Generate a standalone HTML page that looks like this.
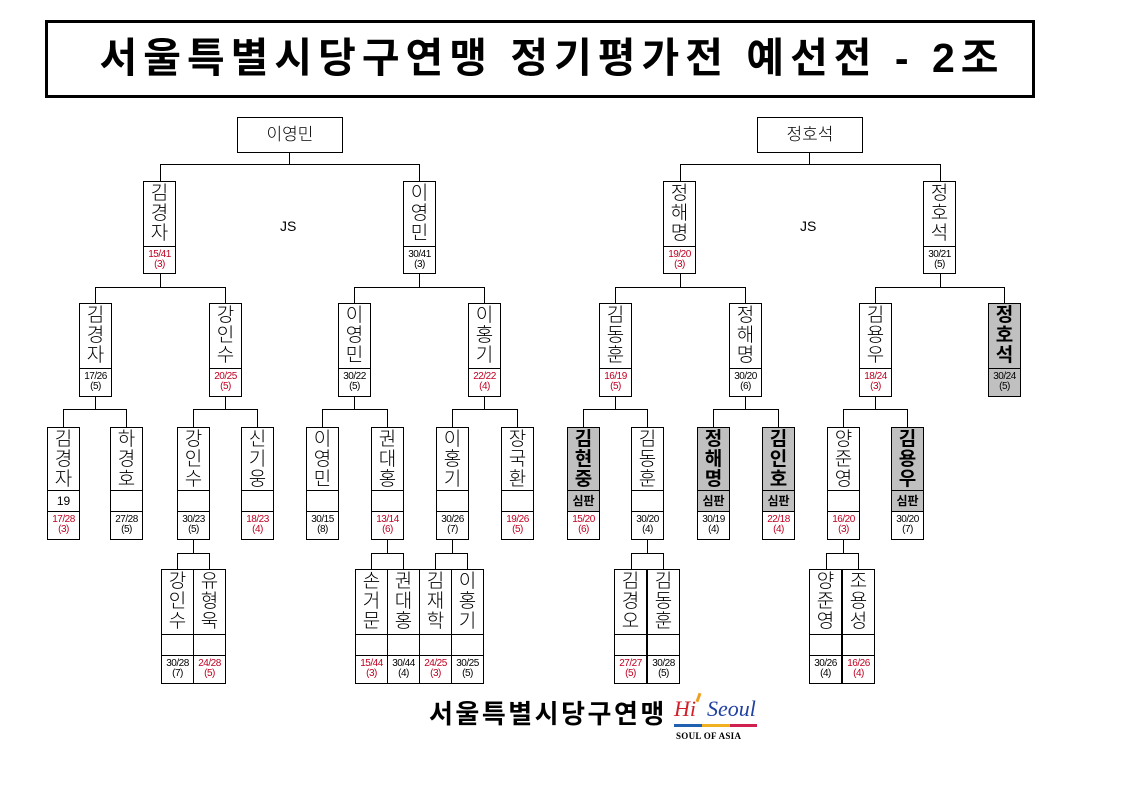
<!DOCTYPE html>
<html><head><meta charset="utf-8">
<style>
*{margin:0;padding:0;box-sizing:border-box}
body{width:1123px;height:794px;background:#fff;position:relative;overflow:hidden;font-family:"Liberation Sans","Noto Sans CJK KR","NanumGothic",sans-serif;color:#000}
.l{position:absolute;background:#000}
.b{position:absolute;width:33px;border:1px solid #000;background:#fff}
.n{font-size:19px;line-height:20px;text-align:center;padding-top:2px;overflow:hidden;font-weight:300}
.m{border-top:1px solid #000;font-size:12px;text-align:center;line-height:20px;height:21px}
.s{border-top:1px solid #000;font-size:10px;line-height:10px;text-align:center;padding-top:3px;letter-spacing:-0.5px}
.r{color:#c00020}
.g{background:#c0c0c0}
.g .n{font-weight:bold}
.j{font-weight:bold;background:#c0c0c0}
.t{position:absolute;border:1px solid #000;background:#fff;font-size:17px;text-align:center;line-height:33px;font-weight:300}
</style></head><body>
<div style="position:absolute;left:45px;top:20px;width:990px;height:78px;border:3px solid #000;"></div>
<div style="position:absolute;left:45px;top:20px;width:990px;height:78px;padding-left:24px;text-align:center;line-height:76px;font-size:41px;font-weight:bold;letter-spacing:6px;">서울특별시당구연맹 정기평가전 예선전 - 2조</div>

<div class="t" style="left:237px;top:117px;width:106px;height:36px">이영민</div>
<div class="t" style="left:757px;top:117px;width:106px;height:36px">정호석</div>
<div style="position:absolute;left:280px;top:218px;font-size:14px">JS</div>
<div style="position:absolute;left:800px;top:218px;font-size:14px">JS</div>

<!-- top connectors -->
<div class="l" style="left:289px;top:152px;width:1px;height:12px"></div>
<div class="l" style="left:160px;top:164px;width:260px;height:1px"></div>
<div class="l" style="left:160px;top:164px;width:1px;height:17px"></div>
<div class="l" style="left:419px;top:164px;width:1px;height:17px"></div>
<div class="l" style="left:809px;top:152px;width:1px;height:12px"></div>
<div class="l" style="left:680px;top:164px;width:261px;height:1px"></div>
<div class="l" style="left:680px;top:164px;width:1px;height:17px"></div>
<div class="l" style="left:940px;top:164px;width:1px;height:17px"></div>

<!-- L1 -> L2 -->
<div class="l" style="left:160px;top:273px;width:1px;height:14px"></div>
<div class="l" style="left:95px;top:287px;width:131px;height:1px"></div>
<div class="l" style="left:95px;top:287px;width:1px;height:16px"></div>
<div class="l" style="left:225px;top:287px;width:1px;height:16px"></div>
<div class="l" style="left:419px;top:273px;width:1px;height:14px"></div>
<div class="l" style="left:354px;top:287px;width:131px;height:1px"></div>
<div class="l" style="left:354px;top:287px;width:1px;height:16px"></div>
<div class="l" style="left:484px;top:287px;width:1px;height:16px"></div>
<div class="l" style="left:680px;top:273px;width:1px;height:14px"></div>
<div class="l" style="left:615px;top:287px;width:131px;height:1px"></div>
<div class="l" style="left:615px;top:287px;width:1px;height:16px"></div>
<div class="l" style="left:745px;top:287px;width:1px;height:16px"></div>
<div class="l" style="left:940px;top:273px;width:1px;height:14px"></div>
<div class="l" style="left:875px;top:287px;width:130px;height:1px"></div>
<div class="l" style="left:875px;top:287px;width:1px;height:16px"></div>
<div class="l" style="left:1004px;top:287px;width:1px;height:16px"></div>

<!-- L2 -> L3 -->
<div class="l" style="left:95px;top:396px;width:1px;height:13px"></div>
<div class="l" style="left:63px;top:409px;width:64px;height:1px"></div>
<div class="l" style="left:63px;top:409px;width:1px;height:18px"></div>
<div class="l" style="left:126px;top:409px;width:1px;height:18px"></div>
<div class="l" style="left:225px;top:396px;width:1px;height:13px"></div>
<div class="l" style="left:193px;top:409px;width:65px;height:1px"></div>
<div class="l" style="left:193px;top:409px;width:1px;height:18px"></div>
<div class="l" style="left:257px;top:409px;width:1px;height:18px"></div>
<div class="l" style="left:354px;top:396px;width:1px;height:13px"></div>
<div class="l" style="left:322px;top:409px;width:66px;height:1px"></div>
<div class="l" style="left:322px;top:409px;width:1px;height:18px"></div>
<div class="l" style="left:387px;top:409px;width:1px;height:18px"></div>
<div class="l" style="left:484px;top:396px;width:1px;height:13px"></div>
<div class="l" style="left:452px;top:409px;width:66px;height:1px"></div>
<div class="l" style="left:452px;top:409px;width:1px;height:18px"></div>
<div class="l" style="left:517px;top:409px;width:1px;height:18px"></div>
<div class="l" style="left:615px;top:396px;width:1px;height:13px"></div>
<div class="l" style="left:583px;top:409px;width:65px;height:1px"></div>
<div class="l" style="left:583px;top:409px;width:1px;height:18px"></div>
<div class="l" style="left:647px;top:409px;width:1px;height:18px"></div>
<div class="l" style="left:745px;top:396px;width:1px;height:13px"></div>
<div class="l" style="left:713px;top:409px;width:66px;height:1px"></div>
<div class="l" style="left:713px;top:409px;width:1px;height:18px"></div>
<div class="l" style="left:778px;top:409px;width:1px;height:18px"></div>
<div class="l" style="left:875px;top:396px;width:1px;height:13px"></div>
<div class="l" style="left:843px;top:409px;width:65px;height:1px"></div>
<div class="l" style="left:843px;top:409px;width:1px;height:18px"></div>
<div class="l" style="left:907px;top:409px;width:1px;height:18px"></div>

<!-- L3 -> L4 -->
<div class="l" style="left:193px;top:539px;width:1px;height:14px"></div>
<div class="l" style="left:177px;top:553px;width:33px;height:1px"></div>
<div class="l" style="left:177px;top:553px;width:1px;height:16px"></div>
<div class="l" style="left:209px;top:553px;width:1px;height:16px"></div>
<div class="l" style="left:387px;top:539px;width:1px;height:14px"></div>
<div class="l" style="left:371px;top:553px;width:33px;height:1px"></div>
<div class="l" style="left:371px;top:553px;width:1px;height:16px"></div>
<div class="l" style="left:403px;top:553px;width:1px;height:16px"></div>
<div class="l" style="left:452px;top:539px;width:1px;height:14px"></div>
<div class="l" style="left:435px;top:553px;width:33px;height:1px"></div>
<div class="l" style="left:435px;top:553px;width:1px;height:16px"></div>
<div class="l" style="left:467px;top:553px;width:1px;height:16px"></div>
<div class="l" style="left:647px;top:539px;width:1px;height:14px"></div>
<div class="l" style="left:631px;top:553px;width:33px;height:1px"></div>
<div class="l" style="left:631px;top:553px;width:1px;height:16px"></div>
<div class="l" style="left:663px;top:553px;width:1px;height:16px"></div>
<div class="l" style="left:843px;top:539px;width:1px;height:14px"></div>
<div class="l" style="left:826px;top:553px;width:33px;height:1px"></div>
<div class="l" style="left:826px;top:553px;width:1px;height:16px"></div>
<div class="l" style="left:858px;top:553px;width:1px;height:16px"></div>

<!-- L1 boxes -->
<div class="b" style="left:143px;top:181px;height:93px"><div class="n" style="height:64px">김<br>경<br>자</div><div class="s r">15/41<br>(3)</div></div>
<div class="b" style="left:403px;top:181px;height:93px"><div class="n" style="height:64px">이<br>영<br>민</div><div class="s">30/41<br>(3)</div></div>
<div class="b" style="left:663px;top:181px;height:93px"><div class="n" style="height:64px">정<br>해<br>명</div><div class="s r">19/20<br>(3)</div></div>
<div class="b" style="left:923px;top:181px;height:93px"><div class="n" style="height:64px">정<br>호<br>석</div><div class="s">30/21<br>(5)</div></div>

<!-- L2 boxes -->
<div class="b" style="left:79px;top:303px;height:94px"><div class="n" style="height:64px">김<br>경<br>자</div><div class="s">17/26<br>(5)</div></div>
<div class="b" style="left:209px;top:303px;height:94px"><div class="n" style="height:64px">강<br>인<br>수</div><div class="s r">20/25<br>(5)</div></div>
<div class="b" style="left:338px;top:303px;height:94px"><div class="n" style="height:64px">이<br>영<br>민</div><div class="s">30/22<br>(5)</div></div>
<div class="b" style="left:468px;top:303px;height:94px"><div class="n" style="height:64px">이<br>홍<br>기</div><div class="s r">22/22<br>(4)</div></div>
<div class="b" style="left:599px;top:303px;height:94px"><div class="n" style="height:64px">김<br>동<br>훈</div><div class="s r">16/19<br>(5)</div></div>
<div class="b" style="left:729px;top:303px;height:94px"><div class="n" style="height:64px">정<br>해<br>명</div><div class="s">30/20<br>(6)</div></div>
<div class="b" style="left:859px;top:303px;height:94px"><div class="n" style="height:64px">김<br>용<br>우</div><div class="s r">18/24<br>(3)</div></div>
<div class="b g" style="left:988px;top:303px;height:94px"><div class="n" style="height:64px">정<br>호<br>석</div><div class="s">30/24<br>(5)</div></div>

<!-- L3 boxes -->
<div class="b" style="left:47px;top:427px;height:113px"><div class="n" style="height:62px">김<br>경<br>자</div><div class="m">19</div><div class="s r">17/28<br>(3)</div></div>
<div class="b" style="left:110px;top:427px;height:113px"><div class="n" style="height:62px">하<br>경<br>호</div><div class="m"></div><div class="s">27/28<br>(5)</div></div>
<div class="b" style="left:177px;top:427px;height:113px"><div class="n" style="height:62px">강<br>인<br>수</div><div class="m"></div><div class="s">30/23<br>(5)</div></div>
<div class="b" style="left:241px;top:427px;height:113px"><div class="n" style="height:62px">신<br>기<br>웅</div><div class="m"></div><div class="s r">18/23<br>(4)</div></div>
<div class="b" style="left:306px;top:427px;height:113px"><div class="n" style="height:62px">이<br>영<br>민</div><div class="m"></div><div class="s">30/15<br>(8)</div></div>
<div class="b" style="left:371px;top:427px;height:113px"><div class="n" style="height:62px">권<br>대<br>홍</div><div class="m"></div><div class="s r">13/14<br>(6)</div></div>
<div class="b" style="left:436px;top:427px;height:113px"><div class="n" style="height:62px">이<br>홍<br>기</div><div class="m"></div><div class="s">30/26<br>(7)</div></div>
<div class="b" style="left:501px;top:427px;height:113px"><div class="n" style="height:62px">장<br>국<br>환</div><div class="m"></div><div class="s r">19/26<br>(5)</div></div>
<div class="b" style="left:567px;top:427px;height:113px"><div class="n g" style="height:62px;font-weight:bold">김<br>현<br>중</div><div class="m j">심판</div><div class="s r">15/20<br>(6)</div></div>
<div class="b" style="left:631px;top:427px;height:113px"><div class="n" style="height:62px">김<br>동<br>훈</div><div class="m"></div><div class="s">30/20<br>(4)</div></div>
<div class="b" style="left:697px;top:427px;height:113px"><div class="n g" style="height:62px;font-weight:bold">정<br>해<br>명</div><div class="m j">심판</div><div class="s">30/19<br>(4)</div></div>
<div class="b" style="left:762px;top:427px;height:113px"><div class="n g" style="height:62px;font-weight:bold">김<br>인<br>호</div><div class="m j">심판</div><div class="s r">22/18<br>(4)</div></div>
<div class="b" style="left:827px;top:427px;height:113px"><div class="n" style="height:62px">양<br>준<br>영</div><div class="m"></div><div class="s r">16/20<br>(3)</div></div>
<div class="b" style="left:891px;top:427px;height:113px"><div class="n g" style="height:62px;font-weight:bold">김<br>용<br>우</div><div class="m j">심판</div><div class="s">30/20<br>(7)</div></div>

<!-- L4 boxes -->
<div class="b" style="left:161px;top:569px;height:115px"><div class="n" style="height:64px">강<br>인<br>수</div><div class="m"></div><div class="s">30/28<br>(7)</div></div>
<div class="b" style="left:193px;top:569px;height:115px"><div class="n" style="height:64px">유<br>형<br>욱</div><div class="m"></div><div class="s r">24/28<br>(5)</div></div>
<div class="b" style="left:355px;top:569px;height:115px"><div class="n" style="height:64px">손<br>거<br>문</div><div class="m"></div><div class="s r">15/44<br>(3)</div></div>
<div class="b" style="left:387px;top:569px;height:115px"><div class="n" style="height:64px">권<br>대<br>홍</div><div class="m"></div><div class="s">30/44<br>(4)</div></div>
<div class="b" style="left:419px;top:569px;height:115px"><div class="n" style="height:64px">김<br>재<br>학</div><div class="m"></div><div class="s r">24/25<br>(3)</div></div>
<div class="b" style="left:451px;top:569px;height:115px"><div class="n" style="height:64px">이<br>홍<br>기</div><div class="m"></div><div class="s">30/25<br>(5)</div></div>
<div class="b" style="left:614px;top:569px;height:115px"><div class="n" style="height:64px">김<br>경<br>오</div><div class="m"></div><div class="s r">27/27<br>(5)</div></div>
<div class="b" style="left:647px;top:569px;height:115px"><div class="n" style="height:64px">김<br>동<br>훈</div><div class="m"></div><div class="s">30/28<br>(5)</div></div>
<div class="b" style="left:809px;top:569px;height:115px"><div class="n" style="height:64px">양<br>준<br>영</div><div class="m"></div><div class="s">30/26<br>(4)</div></div>
<div class="b" style="left:842px;top:569px;height:115px"><div class="n" style="height:64px">조<br>용<br>성</div><div class="m"></div><div class="s r">16/26<br>(4)</div></div>

<!-- logo -->
<div style="position:absolute;left:429px;top:699px;font-size:26px;font-weight:bold;line-height:30px;letter-spacing:2.5px">서울특별시당구연맹</div>
<div style="position:absolute;left:674px;top:696px;font-size:22px;font-style:italic;font-family:'Liberation Serif',serif;color:#d0202a;line-height:26px">Hi</div>
<div style="position:absolute;left:697px;top:693px;width:3px;height:9px;background:#f0a020;transform:rotate(20deg)"></div>
<div style="position:absolute;left:707px;top:696px;font-size:22px;font-style:italic;font-family:'Liberation Serif',serif;color:#2040a0;line-height:26px">Seoul</div>
<div style="position:absolute;left:674px;top:724px;width:28px;height:3px;background:#2060b0"></div>
<div style="position:absolute;left:702px;top:724px;width:28px;height:3px;background:#f0b020"></div>
<div style="position:absolute;left:730px;top:724px;width:27px;height:3px;background:#d02050"></div>
<div style="position:absolute;left:676px;top:731px;font-size:9px;font-weight:bold;font-family:'Liberation Serif',serif;letter-spacing:0.3px;line-height:10px">SOUL OF ASIA</div>
</body></html>
